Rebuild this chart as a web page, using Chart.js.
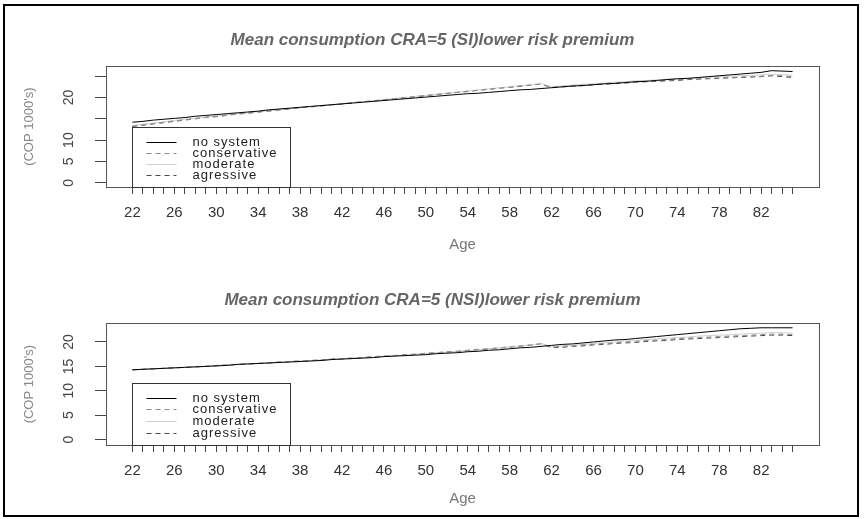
<!DOCTYPE html>
<html>
<head>
<meta charset="utf-8">
<script src="https://cdn.jsdelivr.net/npm/chart.js"></script>
<style>
  body { margin: 0; background: #fff; }
  #frame { position: absolute; left: 3px; top: 4px; width: 852px; height: 509px; border: 2px solid #000; }
  .panel { position: absolute; left: 0; width: 865px; height: 260px; }
</style>
</head>
<body>
<div id="frame"></div>
<div class="panel" style="top:0px"><canvas id="si"></canvas></div>
<div class="panel" style="top:259px"><canvas id="nsi"></canvas></div>
<script>
// ages on the x axis (one point per year)
const ages = [22,23,24,25,26,27,28,29,30,31,32,33,34,35,36,37,38,39,40,41,
  42,43,44,45,46,47,48,49,50,51,52,53,54,55,56,57,58,59,60,61,
  62,63,64,65,66,67,68,69,70,71,72,73,74,75,76,77,78,79,80,81,82,83,84,85];
const xTickLabels = [22,26,30,34,38,42,46,50,54,58,62,66,70,74,78,82];
const seriesNames = ['no system', 'conservative', 'moderate', 'agressive'];

// --- SI panel ---
const siNoSystem = [14.2,14.4,14.7,14.9,15.1,15.3,15.6,15.8,16.0,16.2,
  16.4,16.6,16.8,17.1,17.3,17.5,17.7,17.9,18.1,18.3,
  18.5,18.7,18.9,19.1,19.3,19.5,19.7,19.9,20.1,20.3,
  20.5,20.7,20.9,21.0,21.2,21.4,21.6,21.8,21.9,22.1,
  22.3,22.5,22.7,22.8,23.0,23.2,23.3,23.5,23.7,23.8,
  24.0,24.2,24.4,24.5,24.7,24.9,25.1,25.3,25.5,25.7,
  25.9,26.3,26.2,26.1];
const siConservative = [13.3,13.6,13.9,14.2,14.5,14.8,15.1,15.4,15.6,15.9,
  16.1,16.4,16.6,16.9,17.1,17.4,17.6,17.8,18.1,18.3,
  18.5,18.8,19.0,19.2,19.5,19.7,20.0,20.2,20.5,20.7,
  21.0,21.2,21.5,21.7,22.0,22.2,22.4,22.7,22.9,23.1,
  22.4,22.6,22.7,22.9,23.1,23.2,23.4,23.5,23.7,23.8,
  23.9,24.1,24.2,24.3,24.4,24.5,24.6,24.7,24.8,24.9,
  25.0,25.2,25.1,24.9];
const siModerate = [13.4,13.7,14.0,14.3,14.6,14.9,15.1,15.4,15.7,15.9,
  16.2,16.4,16.7,16.9,17.2,17.4,17.6,17.9,18.1,18.3,
  18.6,18.8,19.0,19.3,19.5,19.8,20.0,20.3,20.5,20.8,
  21.0,21.3,21.5,21.8,22.0,22.3,22.5,22.8,23.0,23.3,
  22.5,22.7,22.9,23.1,23.2,23.4,23.6,23.7,23.9,24.0,
  24.1,24.3,24.4,24.5,24.6,24.8,24.9,25.0,25.1,25.2,
  25.3,25.5,25.4,25.2];
const siAgressive = [13.2,13.5,13.8,14.1,14.4,14.7,15.0,15.3,15.5,15.8,
  16.1,16.3,16.6,16.8,17.1,17.3,17.6,17.8,18.0,18.3,
  18.5,18.7,19.0,19.2,19.4,19.7,19.9,20.2,20.4,20.7,
  20.9,21.2,21.4,21.7,21.9,22.2,22.4,22.6,22.9,23.2,
  22.3,22.5,22.6,22.8,23.0,23.1,23.3,23.4,23.6,23.7,
  23.8,23.9,24.0,24.2,24.3,24.4,24.5,24.6,24.7,24.8,
  24.9,25.1,24.9,24.7];
const siYTicks = [0,5,10,15,20,25];
const siYLabels = ['0','5','10','','20',''];

// --- NSI panel ---
const nsiNoSystem = [14.3,14.4,14.5,14.6,14.7,14.8,14.9,15.0,15.1,15.2,
  15.4,15.5,15.6,15.7,15.8,15.9,16.0,16.1,16.2,16.4,
  16.5,16.6,16.7,16.8,17.0,17.1,17.2,17.3,17.4,17.6,
  17.7,17.8,18.0,18.1,18.3,18.4,18.6,18.8,18.9,19.1,
  19.3,19.5,19.6,19.8,20.0,20.2,20.4,20.5,20.7,20.9,
  21.1,21.3,21.5,21.7,21.9,22.1,22.3,22.5,22.7,22.8,
  22.9,22.9,22.9,22.9];
const nsiConservative = [14.3,14.4,14.5,14.6,14.7,14.8,14.9,15.0,15.1,15.2,
  15.4,15.5,15.6,15.7,15.8,15.9,16.0,16.2,16.3,16.4,
  16.5,16.6,16.8,16.9,17.0,17.2,17.3,17.4,17.6,17.7,
  17.9,18.0,18.2,18.4,18.5,18.7,18.9,19.1,19.3,19.6,
  18.9,19.1,19.2,19.4,19.5,19.7,19.8,20.0,20.1,20.3,
  20.4,20.5,20.7,20.8,20.9,21.0,21.1,21.2,21.3,21.4,
  21.5,21.6,21.6,21.5];
const nsiModerate = [14.3,14.4,14.5,14.6,14.7,14.8,14.9,15.0,15.1,15.3,
  15.4,15.5,15.6,15.7,15.8,16.0,16.1,16.2,16.3,16.4,
  16.6,16.7,16.8,16.9,17.1,17.2,17.3,17.5,17.6,17.8,
  17.9,18.1,18.2,18.4,18.6,18.8,19.0,19.2,19.4,19.7,
  19.0,19.2,19.3,19.5,19.7,19.8,20.0,20.2,20.3,20.5,
  20.6,20.8,20.9,21.0,21.2,21.3,21.4,21.5,21.6,21.7,
  21.8,21.9,21.9,21.8];
const nsiAgressive = [14.3,14.4,14.5,14.6,14.7,14.8,14.9,15.0,15.2,15.3,
  15.4,15.5,15.6,15.7,15.9,16.0,16.1,16.2,16.3,16.5,
  16.6,16.7,16.8,17.0,17.1,17.2,17.4,17.5,17.7,17.8,
  18.0,18.1,18.3,18.5,18.6,18.8,19.0,19.2,19.4,19.7,
  18.8,18.9,19.1,19.2,19.4,19.5,19.7,19.8,19.9,20.1,
  20.2,20.3,20.5,20.6,20.7,20.8,20.9,21.0,21.1,21.2,
  21.3,21.4,21.4,21.3];
const nsiYTicks = [0,5,10,15,20];
const nsiYLabels = ['0','5','10','15','20'];

const lineStyles = [
  { color: '#000000', dash: [] },
  { color: '#8c8c8c', dash: [5, 4] },
  { color: '#cfcfcf', dash: [] },
  { color: '#4a4a4a', dash: [5, 4] }
];

// box around the plot region, rotated y labels and the legend box
const rDecor = {
  id: 'rDecor',
  afterDraw(chart, args, o) {
    const ctx = chart.ctx, a = chart.chartArea;
    const x = chart.scales.x, y = chart.scales.y;
    ctx.save();
    ctx.strokeStyle = '#555';
    ctx.lineWidth = 1;
    ctx.strokeRect(Math.round(a.left) + 0.5, Math.round(a.top) + 0.5,
      Math.round(a.right - a.left), Math.round(a.bottom - a.top));

    // y tick labels, parallel to the axis like R
    ctx.fillStyle = '#444';
    ctx.font = '14px "Liberation Sans", Arial, sans-serif';
    ctx.textAlign = 'center';
    ctx.textBaseline = 'middle';
    o.yTicks.forEach((v, i) => {
      if (!o.yLabels[i]) return;
      ctx.save();
      ctx.translate(69, y.getPixelForValue(v));
      ctx.rotate(-Math.PI / 2);
      ctx.fillText(o.yLabels[i], 0, 0);
      ctx.restore();
    });

    // legend
    const lx = Math.round(x.getPixelForValue(22)) + 0.5;
    const lb = Math.round(a.bottom) + 0.5;
    const lt = lb - o.legendHeight;
    ctx.fillStyle = '#fff';
    ctx.fillRect(lx, lt, 158, o.legendHeight);
    ctx.strokeStyle = '#333';
    ctx.strokeRect(lx, lt, 158, o.legendHeight);
    ctx.font = '13px "Liberation Sans", Arial, sans-serif';
    ctx.letterSpacing = '1px';
    ctx.textAlign = 'left';
    chart.data.datasets.forEach((ds, i) => {
      const ry = Math.round(lt + 14 + i * o.legendStep) + 0.5;
      ctx.strokeStyle = ds.borderColor;
      ctx.setLineDash(ds.borderDash);
      ctx.beginPath();
      ctx.moveTo(lx + 14, ry);
      ctx.lineTo(lx + 44, ry);
      ctx.stroke();
      ctx.setLineDash([]);
      ctx.fillStyle = '#222';
      ctx.fillText(ds.label, lx + 60, ry);
    });
    ctx.restore();
  }
};

function makeChart(id, cfg) {
  const sets = [cfg.noSystem, cfg.conservative, cfg.moderate, cfg.agressive];
  return new Chart(document.getElementById(id), {
    type: 'line',
    data: {
      datasets: sets.map((vals, i) => ({
        label: seriesNames[i],
        data: ages.map((a, k) => ({ x: a, y: vals[k] })),
        borderColor: lineStyles[i].color,
        borderDash: lineStyles[i].dash,
        borderWidth: 1,
        pointRadius: 0,
        tension: 0,
        fill: false
      }))
    },
    options: {
      responsive: true,
      maintainAspectRatio: false,
      animation: false,
      layout: { padding: 0 },
      plugins: {
        legend: { display: false },
        tooltip: { enabled: false },
        title: {
          display: true,
          text: cfg.title,
          color: '#666',
          font: { family: '"Liberation Sans", Arial, sans-serif', size: 17, weight: 'bold', style: 'italic', lineHeight: 1.2 },
          padding: { top: cfg.titleTop, bottom: cfg.titleBottom }
        },
        rDecor: { yTicks: cfg.yTicks, yLabels: cfg.yLabels, legendHeight: cfg.legendHeight, legendStep: cfg.legendStep }
      },
      scales: {
        x: {
          type: 'linear',
          min: 19.48,
          max: 87.52,
          afterBuildTicks: s => { s.ticks = ages.map(v => ({ value: v })); },
          afterFit: s => { s.height = cfg.xAxisHeight; },
          border: { display: false },
          grid: { drawOnChartArea: false, drawTicks: true, tickLength: 7, color: '#444' },
          ticks: {
            autoSkip: false,
            maxRotation: 0,
            padding: 10,
            color: '#333',
            font: { family: '"Liberation Sans", Arial, sans-serif', size: 15 },
            callback: v => xTickLabels.includes(v) ? String(v) : ''
          },
          title: {
            display: true,
            text: 'Age',
            color: '#777',
            font: { family: '"Liberation Sans", Arial, sans-serif', size: 15 },
            padding: { top: 0, bottom: cfg.ageBottom }
          }
        },
        y: {
          min: cfg.yMin,
          max: cfg.yMax,
          afterBuildTicks: s => { s.ticks = cfg.yTicks.map(v => ({ value: v })); },
          afterFit: s => { s.width = 106; },
          border: { display: false },
          grid: { drawOnChartArea: false, drawTicks: true, tickLength: 11, color: '#444' },
          ticks: { display: false },
          title: {
            display: true,
            text: "(COP 1000's)",
            color: '#888',
            font: { family: '"Liberation Sans", Arial, sans-serif', size: 13 },
            padding: { top: 22, bottom: 0 }
          }
        },
        // empty right margin, so the title stays centred on the page
        margin: {
          position: 'right',
          afterFit: s => { s.width = 46; },
          border: { display: false },
          grid: { display: false },
          ticks: { display: false }
        }
      }
    },
    plugins: [rDecor]
  });
}

makeChart('si', {
  title: 'Mean consumption CRA=5 (SI)lower risk premium',
  noSystem: siNoSystem, conservative: siConservative, moderate: siModerate, agressive: siAgressive,
  yTicks: siYTicks, yLabels: siYLabels, yMin: -1.0, yMax: 27.3,
  titleTop: 30, titleBottom: 16, xAxisHeight: 73, ageBottom: 6,
  legendHeight: 60, legendStep: 11.3
});

makeChart('nsi', {
  title: 'Mean consumption CRA=5 (NSI)lower risk premium',
  noSystem: nsiNoSystem, conservative: nsiConservative, moderate: nsiModerate, agressive: nsiAgressive,
  yTicks: nsiYTicks, yLabels: nsiYLabels, yMin: -1.1, yMax: 23.8,
  titleTop: 31, titleBottom: 13, xAxisHeight: 74, ageBottom: 11,
  legendHeight: 62, legendStep: 11.7
});
</script>
</body>
</html>
